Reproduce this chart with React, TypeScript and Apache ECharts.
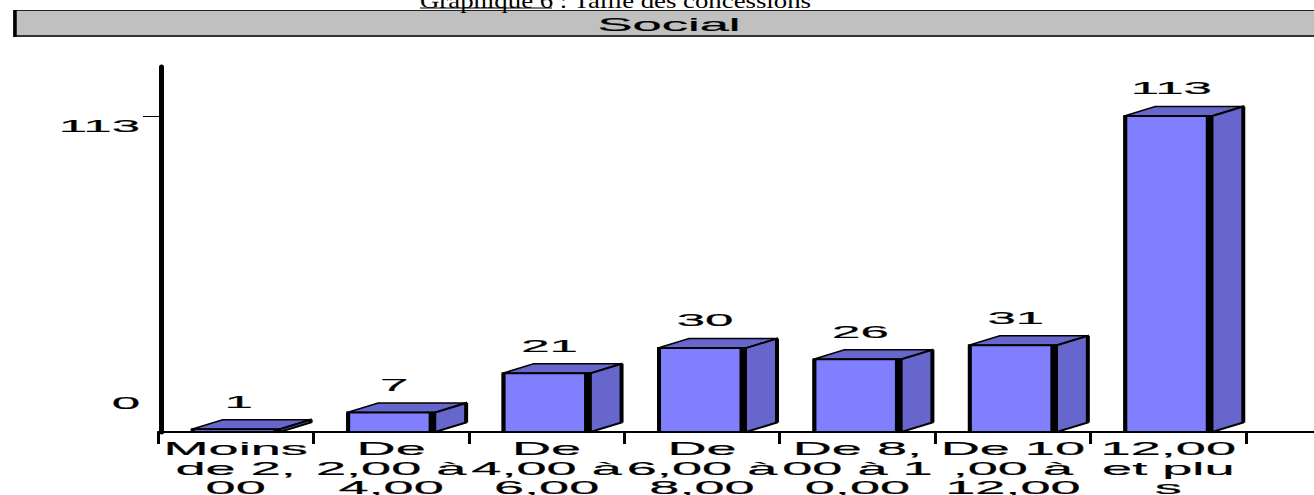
import React, { useEffect, useRef } from 'react';
import * as echarts from 'echarts';

const categories = [
  'Moins de 2,00',
  'De 2,00 à 4,00',
  'De 4,00 à 6,00',
  'De 6,00 à 8,00',
  'De 8,00 à 10,00',
  'De 10,00 à 12,00',
  '12,00 et plus',
];
const categoryLabels = [
  'Moins\nde 2,\n00',
  'De\n2,00 à\n4,00',
  'De\n4,00 à\n6,00',
  'De\n6,00 à\n8,00',
  'De 8,\n00 à 1\n0,00',
  'De 10\n,00 à\n12,00',
  '12,00\net plu\ns',
];
const values = [1, 7, 21, 30, 26, 31, 113];
const yTickValues = [0, 113];
const yMax = 130.5;
const chartTitle = 'Social';
const pageCaption = 'Graphique 6 : Taille des concessions';

const FRONT = '#8080FF';
const SIDE = '#6666CC';
const SANS = '"Liberation Sans", Arial, sans-serif';
const STRETCH = 3.0;
const TEXT_STROKE = 0.2;

export default function App() {
  const ref = useRef<HTMLDivElement>(null);
  useEffect(() => {
    const chart = echarts.init(ref.current!, null, { renderer: 'svg' });
    const DX = 31;
    const DY = -9.5;

    const renderBar = (params: any, api: any) => {
      const idx = api.value(0);
      const v = api.value(1);
      const base = api.coord([idx, 0]);
      const top = api.coord([idx, v]);
      const band = api.size([1, 0])[0];
      const w = band * 0.566;
      const x0 = base[0] - w / 2;
      const x1 = base[0] + w / 2;
      const yb = base[1];
      const yt = top[1];
      return {
        type: 'group',
        children: [
          {
            type: 'polygon',
            shape: { points: [[x0, yt], [x0 + DX, yt + DY], [x1 + DX, yt + DY], [x1, yt]] },
            style: { fill: SIDE, stroke: '#000', lineWidth: 1.5 },
          },
          {
            type: 'polygon',
            shape: { points: [[x1, yt], [x1 + DX, yt + DY], [x1 + DX, yb + DY], [x1, yb]] },
            style: { fill: SIDE, stroke: '#000', lineWidth: 2 },
          },
          {
            type: 'rect',
            shape: { x: x0, y: yt, width: w, height: yb - yt },
            style: { fill: FRONT, stroke: '#000', lineWidth: 2 },
          },
          {
            type: 'line',
            shape: { x1: x1 - 3, y1: yt, x2: x1 - 3, y2: yb },
            style: { stroke: '#000', lineWidth: 7 },
          },
          {
            type: 'line',
            shape: { x1: x0 + 1, y1: yt, x2: x0 + 1, y2: yb },
            style: { stroke: '#000', lineWidth: 4 },
          },
          {
            type: 'line',
            shape: { x1: x1 + DX, y1: yt + DY, x2: x1 + DX, y2: yb + DY },
            style: { stroke: '#000', lineWidth: 4 },
          },
          {
            type: 'text',
            x: base[0] + 3,
            y: yt + DY - 18,
            scaleX: STRETCH,
            style: {
              text: String(v),
              x: 0,
              y: 0,
              align: 'center',
              verticalAlign: 'middle',
              font: `17px ${SANS}`,
              fill: '#000',
              stroke: '#000',
              lineWidth: TEXT_STROKE,
            },
          },
        ],
      };
    };

    const renderCatLabel = (params: any, api: any) => {
      const idx = api.value(0);
      const base = api.coord([idx, 0]);
      return {
        type: 'text',
        x: base[0],
        y: base[1] + 7,
        scaleX: 2.85,
        style: {
          text: categoryLabels[params.dataIndex],
          x: 0,
          y: 0,
          align: 'center',
          verticalAlign: 'top',
          lineHeight: 19.5,
          font: `19px ${SANS}`,
          fill: '#000',
          stroke: '#000',
          lineWidth: TEXT_STROKE,
        },
      };
    };

    const renderYLabel = (params: any, api: any) => {
      const v = api.value(1);
      const p = api.coord([0, v]);
      const band = api.size([1, 0])[0];
      const axisX = p[0] - band / 2 + 3;
      return {
        type: 'text',
        x: axisX - 21,
        y: p[1] + (v === 0 ? -29 : 10),
        scaleX: STRETCH,
        style: {
          text: String(v),
          x: 0,
          y: 0,
          align: 'right',
          verticalAlign: 'middle',
          font: `17px ${SANS}`,
          fill: '#000',
          stroke: '#000',
          lineWidth: TEXT_STROKE,
        },
      };
    };

    const option: any = {
      animation: false,
      backgroundColor: '#fff',
      grid: { left: 158, top: 67, width: 1088, height: 365 },
      xAxis: {
        type: 'category',
        data: categories,
        axisLine: { lineStyle: { color: '#000', width: 2 } },
        axisTick: { show: true, length: 12, lineStyle: { color: '#000', width: 3 } },
        axisLabel: { show: false },
        splitLine: { show: false },
      },
      yAxis: {
        type: 'value',
        min: 0,
        max: yMax,
        offset: -3,
        axisLine: { show: true, lineStyle: { color: '#000', width: 5 } },
        axisTick: { show: true, customValues: [113], length: 18, lineStyle: { color: '#000', width: 1 } },
        axisLabel: { show: false },
        splitLine: { show: false },
      },
      graphic: [
        {
          type: 'rect',
          shape: { x: 14, y: 10.5, width: 1310, height: 26 },
          style: { fill: '#C0C0C0', stroke: '#222', lineWidth: 1.2 },
        },
        {
          type: 'line',
          shape: { x1: 14, y1: 36, x2: 1314, y2: 36 },
          style: { stroke: '#333', lineWidth: 2 },
        },
        {
          type: 'line',
          shape: { x1: 15, y1: 10, x2: 15, y2: 37 },
          style: { stroke: '#000', lineWidth: 3.5 },
        },
        {
          type: 'text',
          x: 669,
          y: 25,
          scaleX: 3.0,
          style: {
            text: chartTitle,
            x: 0,
            y: 0,
            align: 'center',
            verticalAlign: 'middle',
            font: `17.5px ${SANS}`,
            fill: '#000',
            stroke: '#000',
            lineWidth: TEXT_STROKE,
          },
        },
        {
          type: 'text',
          x: 420,
          y: 11,
          scaleX: 1.34,
          style: {
            text: pageCaption,
            x: 0,
            y: 0,
            align: 'left',
            verticalAlign: 'bottom',
            font: `20px "Liberation Serif", "Times New Roman", serif`,
            fill: '#000',
          },
        },
        {
          type: 'line',
          shape: { x1: 420, y1: 8, x2: 552, y2: 8 },
          style: { stroke: '#000', lineWidth: 1.2 },
        },
        {
          type: 'line',
          shape: { x1: 1246, y1: 432, x2: 1314, y2: 432 },
          style: { stroke: '#000', lineWidth: 2 },
        },
      ],
      series: [
        {
          type: 'custom',
          silent: true,
          clip: false,
          renderItem: renderBar,
          data: values.map((v, i) => [i, v]),
          encode: { x: 0, y: 1 },
          z: 3,
        },
        {
          type: 'custom',
          silent: true,
          clip: false,
          renderItem: renderCatLabel,
          data: categoryLabels.map((_, i) => [i, 0]),
          encode: { x: 0, y: 1 },
          z: 4,
        },
        {
          type: 'custom',
          silent: true,
          clip: false,
          renderItem: renderYLabel,
          data: yTickValues.map((v) => [0, v]),
          encode: { x: 0, y: 1 },
          z: 4,
        },
      ],
    };
    chart.setOption(option);
    return () => chart.dispose();
  }, []);
  return (
    <div
      ref={ref}
      style={{ position: 'absolute', left: 0, top: 0, width: 1314, height: 495 }}
    />
  );
}
